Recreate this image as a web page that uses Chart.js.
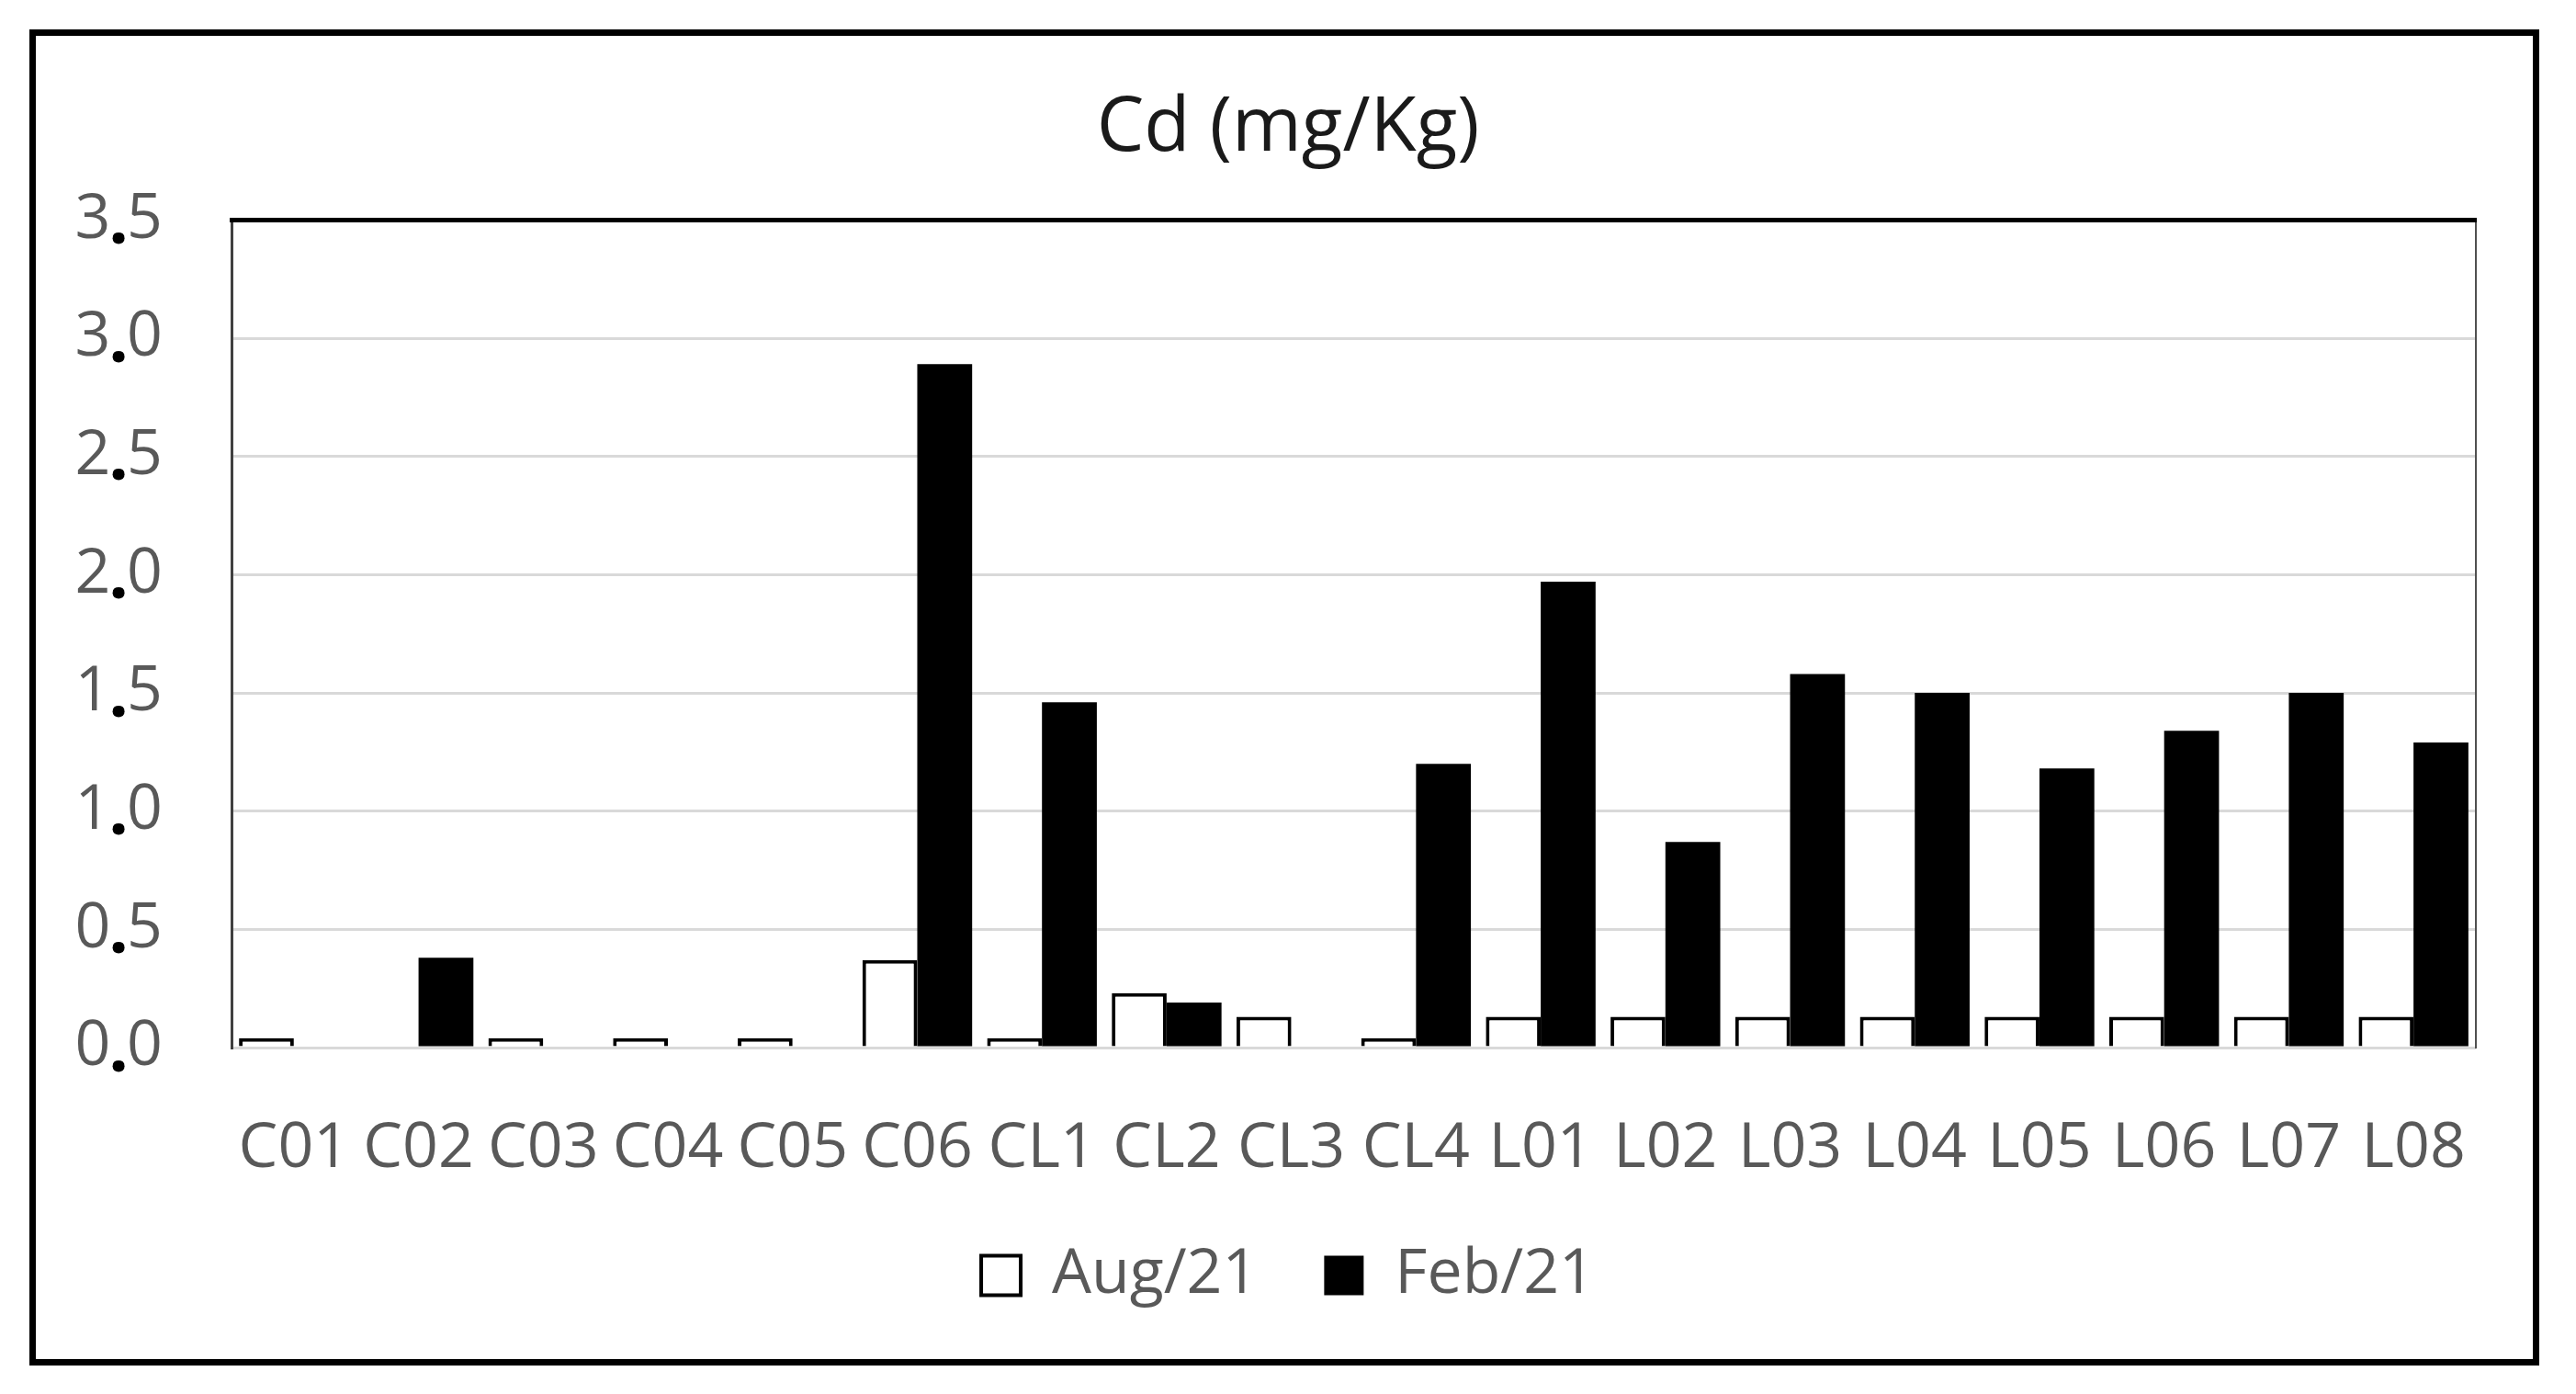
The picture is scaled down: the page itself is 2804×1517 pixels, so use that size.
<!DOCTYPE html>
<html>
<head>
<meta charset="utf-8">
<script src="https://cdn.jsdelivr.net/npm/chart.js@4.4.1/dist/chart.umd.min.js"></script>
<style>
  html, body { margin: 0; padding: 0; background: #fff; }
  #wrap { position: relative; width: 2804px; height: 1517px; }
</style>
</head>
<body>
<div id="wrap"><canvas id="myChart"></canvas></div>
<script>
// sampling points and the two campaigns
var categories = ['C01', 'C02', 'C03', 'C04', 'C05', 'C06', 'CL1', 'CL2', 'CL3', 'CL4',
                  'L01', 'L02', 'L03', 'L04', 'L05', 'L06', 'L07', 'L08'];
var aug21 = [0.04, null, 0.04, 0.04, 0.04, 0.37, 0.04, 0.23, 0.13, 0.04,
             0.13, 0.13, 0.13, 0.13, 0.13, 0.13, 0.13, 0.13];
var feb21 = [null, 0.38, null, null, null, 2.89, 1.46, 0.19, null, 1.20,
             1.97, 0.87, 1.58, 1.50, 1.18, 1.34, 1.50, 1.29];
var seriesNames = ['Aug/21', 'Feb/21'];
var yMax = 3.5;
var yStep = 0.5;

var fontFamily = "'Open Sans', 'Liberation Sans', sans-serif";
var tickGray = '#595959';

// outer frame + plot area border
const frame = {
    id: 'frame',
    beforeDraw(chart) {
        const { ctx } = chart;
        ctx.save();
        ctx.fillStyle = '#fff';
        ctx.fillRect(0, 0, chart.width, chart.height);
        ctx.lineWidth = 7;
        ctx.strokeStyle = '#000';
        ctx.strokeRect(35.5, 35.5, 2725, 1447);
        ctx.restore();
    },
    afterDraw(chart) {
        const { ctx, chartArea } = chart;
        ctx.save();
        ctx.strokeStyle = '#000';
        ctx.lineWidth = 5;
        ctx.beginPath();
        ctx.moveTo(chartArea.left - 2, chartArea.top);
        ctx.lineTo(chartArea.right + 1, chartArea.top);
        ctx.stroke();
        ctx.restore();
    }
};

// the decimal points of the y labels are printed as bold black dots
const blackDots = {
    id: 'blackDots',
    afterDraw(chart) {
        const { ctx } = chart;
        const y = chart.scales.y;
        const pad = y.options.ticks.padding;
        const size = y.options.ticks.font.size;
        ctx.save();
        y.ticks.forEach(function (t, i) {
            const parts = t.label.split('.');
            if (parts.length < 2) return;
            const py = y.getPixelForTick(i);
            const right = chart.chartArea.left - pad;
            ctx.font = size + 'px ' + fontFamily;
            const wAfter = ctx.measureText(parts[1]).width;
            const wDot = ctx.measureText('.').width;
            ctx.fillStyle = '#fff';
            ctx.fillRect(right - wAfter - wDot, py - size * 0.1, wDot, size * 0.5);
            ctx.font = 'bold ' + (size + 8) + 'px ' + fontFamily;
            ctx.fillStyle = '#000';
            ctx.textAlign = 'center';
            ctx.textBaseline = 'middle';
            ctx.fillText('.', right - wAfter - wDot / 2, py + 4);
        });
        ctx.restore();
    }
};

const ctx = document.getElementById('myChart');
new Chart(ctx, {
    type: 'bar',
    data: {
        labels: categories,
        datasets: [{
            label: seriesNames[0],
            data: aug21,
            backgroundColor: '#fff',
            borderColor: '#000',
            borderWidth: 4,
            barPercentage: 1,
            categoryPercentage: 0.88
        }, {
            label: seriesNames[1],
            data: feb21,
            backgroundColor: '#000',
            borderColor: '#000',
            borderWidth: 0,
            barPercentage: 1,
            categoryPercentage: 0.88
        }]
    },
    options: {
        responsive: true,
        maintainAspectRatio: false,
        devicePixelRatio: 1,
        animation: false,
        layout: { padding: { left: 0, right: 0, top: 0, bottom: 85 } },
        scales: {
            x: {
                grid: { display: false },
                border: { display: false },
                ticks: {
                    color: tickGray,
                    font: { family: fontFamily, size: 68 },
                    padding: 62,
                    autoSkip: false,
                    maxRotation: 0
                },
                afterFit(s) { s.height = 142; }
            },
            y: {
                min: 0,
                max: yMax,
                ticks: {
                    stepSize: yStep,
                    color: tickGray,
                    font: { family: fontFamily, size: 68 },
                    padding: 75,
                    callback: function (v) { return v.toFixed(1); }
                },
                grid: { color: '#d9d9d9', lineWidth: 3, drawTicks: false },
                border: { color: '#404040', width: 3 },
                afterFit(s) { s.width = 252; }
            },
            y2: {
                position: 'right',
                grid: { display: false },
                ticks: { display: false },
                border: { color: '#505050', width: 2 },
                afterFit(s) { s.width = 109; }
            }
        },
        plugins: {
            tooltip: { enabled: false },
            title: {
                display: true,
                text: 'Cd (mg/Kg)',
                color: '#1a1a1a',
                font: { family: fontFamily, size: 82, weight: 'normal' },
                padding: { top: 91, bottom: 50 }
            },
            legend: {
                position: 'bottom',
                labels: {
                    color: tickGray,
                    font: { family: fontFamily, size: 68 },
                    boxWidth: 43,
                    boxHeight: 43,
                    padding: 72
                }
            }
        }
    },
    plugins: [frame, blackDots]
});
</script>
</body>
</html>
